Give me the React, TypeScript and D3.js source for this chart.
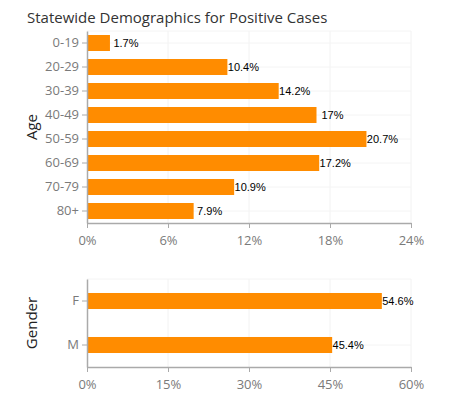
import React, { useEffect, useRef } from "react";
import * as d3 from "d3";

const ageGroups = ["0-19", "20-29", "30-39", "40-49", "50-59", "60-69", "70-79", "80+"];
const ageValues = [1.7, 10.4, 14.2, 17, 20.7, 17.2, 10.9, 7.9];
const ageTicks = [0, 6, 12, 18, 24];

const genders = ["F", "M"];
const genderValues = [54.6, 45.4];
const genderTicks = [0, 15, 30, 45, 60];

const title = "Statewide Demographics for Positive Cases";

const W = 450;
const H = 398;
const left = 87;
const right = 411;
const tickFont = "'Segoe UI', 'Open Sans', sans-serif";

type Panel = {
  label: string;
  cats: string[];
  vals: number[];
  ticks: number[];
  top: number;
  bottom: number;
  pi: number;
  po: number;
};

const drawPanel = (svg: d3.Selection<SVGSVGElement, unknown, null, undefined>, p: Panel) => {
  const x = d3.scaleLinear().domain([0, p.ticks[p.ticks.length - 1]]).range([left, right]);
  const y = d3
    .scaleBand<string>()
    .domain(p.cats)
    .range([p.top, p.bottom])
    .paddingInner(p.pi)
    .paddingOuter(p.po);

  const g = svg.append("g");

  // faint grid
  g.selectAll(".vgrid")
    .data(p.ticks.slice(1))
    .join("line")
    .attr("x1", (d) => x(d))
    .attr("x2", (d) => x(d))
    .attr("y1", p.top)
    .attr("y2", p.bottom)
    .attr("stroke", "#f2f2f2");
  g.selectAll(".hgrid")
    .data(p.cats)
    .join("line")
    .attr("x1", left)
    .attr("x2", right)
    .attr("y1", (d) => y(d)! + y.bandwidth() / 2)
    .attr("y2", (d) => y(d)! + y.bandwidth() / 2)
    .attr("stroke", "#f4f4f4");
  g.append("line")
    .attr("x1", left)
    .attr("x2", right)
    .attr("y1", p.top)
    .attr("y2", p.top)
    .attr("stroke", "#f4f4f4");

  // bars
  g.selectAll(".bar")
    .data(p.vals)
    .join("rect")
    .attr("x", left)
    .attr("y", (d, i) => y(p.cats[i])!)
    .attr("width", (d) => x(d) - left)
    .attr("height", y.bandwidth())
    .attr("fill", "#ff8c00");

  g.selectAll(".val")
    .data(p.vals)
    .join("text")
    .attr("x", (d) => x(d) + 16)
    .attr("y", (d, i) => y(p.cats[i])! + y.bandwidth() / 2)
    .attr("dy", "0.35em")
    .attr("text-anchor", "middle")
    .attr("font-family", "Arial, 'Liberation Sans', sans-serif")
    .attr("font-size", 11)
    .attr("fill", "#000")
    .text((d) => d + "%");

  // axes
  const xAxis = d3
    .axisBottom(x)
    .tickValues(p.ticks)
    .tickSize(5)
    .tickSizeOuter(0)
    .tickFormat((d) => d + "%");
  const xa = g.append("g").attr("transform", `translate(0,${p.bottom})`).call(xAxis);

  const yAxis = d3.axisLeft(y).tickSize(5).tickSizeOuter(0);
  const ya = g.append("g").attr("transform", `translate(${left},0)`).call(yAxis);

  [xa, ya].forEach((a) => {
    a.select(".domain").attr("stroke", "#aaa").attr("stroke-width", 1.5);
    a.selectAll(".tick line").attr("stroke", "#aaa");
    a.selectAll(".tick text")
      .attr("fill", "#7a7a7a")
      .attr("font-family", tickFont)
      .attr("font-size", 13);
  });
  xa.selectAll(".tick text").attr("dy", "1.05em");

  svg
    .append("text")
    .attr("transform", `translate(${37},${(p.top + p.bottom) / 2}) rotate(-90)`)
    .attr("text-anchor", "middle")
    .attr("font-family", tickFont)
    .attr("font-size", 15)
    .attr("fill", "#222")
    .text(p.label);
};

export default function App() {
  const svgRef = useRef<SVGSVGElement>(null);

  useEffect(() => {
    const svg = d3.select(svgRef.current!);
    svg.selectAll("*").remove();

    svg
      .append("text")
      .attr("x", 27)
      .attr("y", 23)
      .attr("font-family", tickFont)
      .attr("font-size", 15)
      .attr("fill", "#333")
      .text(title);

    drawPanel(svg, {
      label: "Age",
      cats: ageGroups,
      vals: ageValues,
      ticks: ageTicks,
      top: 31,
      bottom: 223,
      pi: 1 / 3,
      po: 1 / 6,
    });

    drawPanel(svg, {
      label: "Gender",
      cats: genders,
      vals: genderValues,
      ticks: genderTicks,
      top: 279,
      bottom: 367,
      pi: 0.636,
      po: 0.318,
    });
  }, []);

  return (
    <div style={{ position: "absolute", left: 0, top: 0, width: W, height: H, background: "#fff" }}>
      <svg ref={svgRef} width={W} height={H} />
    </div>
  );
}
